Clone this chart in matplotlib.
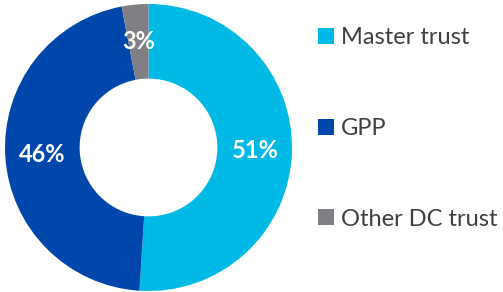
import matplotlib.pyplot as plt
from matplotlib.patches import Patch

labels = ['Master trust', 'GPP', 'Other DC trust']
values = [51, 46, 3]
colors = ['#00B9E4', '#0047AB', '#7F7F84']

plt.rcParams['font.family'] = ['Lato', 'DejaVu Sans']

fig = plt.figure(figsize=(5.03, 2.92), dpi=100)
ax = fig.add_axes([5 / 503, 1 / 292, 287 / 503, 287 / 292])

wedges, texts, autotexts = ax.pie(
    values, colors=colors, startangle=90, counterclock=False,
    radius=1, wedgeprops=dict(width=0.52, linewidth=0),
    autopct='%d%%', pctdistance=0.745,
    textprops=dict(color='white', fontsize=17, fontweight='bold'))
ax.set_xlim(-1, 1)
ax.set_ylim(-1, 1)
ax.set_aspect('equal')
ax.axis('off')

handles = [Patch(facecolor=c, edgecolor='none') for c in colors]
leg = fig.legend(handles, labels, loc='center left', bbox_to_anchor=(318 / 503, 0.56),
                 frameon=False, fontsize=17, handlelength=0.68, handleheight=0.68,
                 handletextpad=0.3, labelspacing=2.95, borderpad=0, borderaxespad=0)
for t in leg.get_texts():
    t.set_color('#404040')

fig.savefig('out.png', dpi=100)
